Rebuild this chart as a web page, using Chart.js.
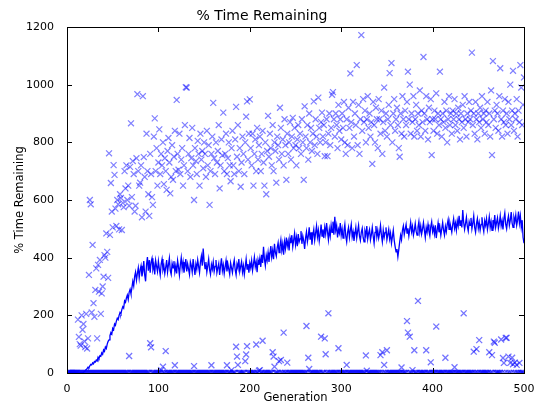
<!DOCTYPE html>
<html>
<head>
<meta charset="utf-8">
<script src="https://cdn.jsdelivr.net/npm/chart.js@4/dist/chart.umd.min.js"></script>
<style>
  html, body { margin: 0; padding: 0; background: #fff; }
  #wrap { width: 537px; height: 407px; }
</style>
</head>
<body>
<div id="wrap"><canvas id="myChart"></canvas></div>
<script>
// generations 1..500
var firstGen = 1;

// mean % time remaining per generation
var meanRemaining = [
    0,0,0,0,0,0,0,0,0,0,
    0,0,0,0,0,0,0,2,5,8,
    12,15,20,18,25,30,28,35,32,40,
    38,45,42,55,50,60,58,70,65,80,
    75,90,85,100,110,115,130,140,135,155,
    150,170,165,180,190,185,200,210,205,220,
    230,225,250,245,260,270,255,280,290,275,
    295,318,302,335,350,322,345,365,330,358,
    372,335,352,388,340,318,375,402,355,392,
    348,385,398,360,375,342,390,370,352,388,
    362,340,378,395,358,372,345,366,392,350,
    375,398,355,342,380,365,388,350,372,345,
    390,368,340,375,400,362,385,348,370,395,
    352,378,360,342,385,372,350,395,365,340,
    378,360,392,370,348,385,405,372,432,388,
    362,385,350,372,395,358,342,376,360,385,
    352,370,392,348,365,380,340,372,398,355,
    375,345,368,390,352,378,360,342,382,365,
    348,375,392,358,340,378,365,395,352,370,
    386,350,372,342,368,395,360,378,348,382,
    365,390,355,378,402,368,385,350,392,375,
    398,368,410,382,438,395,372,408,390,418,
    385,412,440,402,425,395,448,418,405,435,
    452,418,440,462,425,448,410,455,432,470,
    440,458,425,468,450,478,438,462,485,445,
    470,440,482,455,465,492,448,475,458,430,
    468,490,455,475,505,462,488,445,478,498,
    460,485,510,472,495,458,482,515,475,498,
    468,505,482,520,490,462,498,475,512,488,
    525,480,542,495,512,470,498,485,520,478,
    500,468,492,515,475,455,488,505,470,495,
    515,472,490,458,482,505,468,492,512,475,
    460,488,502,470,455,492,478,510,465,485,
    498,462,480,505,475,450,488,510,472,495,
    468,485,512,478,455,495,470,488,505,462,
    480,498,465,485,450,472,495,460,438,420,
    430,403,428,455,478,462,495,510,480,498,
    515,485,502,475,498,522,490,508,478,495,
    518,492,478,505,525,488,510,482,500,522,
    495,470,505,488,515,492,476,508,525,490,
    505,482,512,468,495,520,488,505,478,500,
    522,495,478,508,490,515,532,498,520,505,
    488,515,535,502,520,495,528,510,545,512,
    530,505,565,522,498,518,540,508,492,525,
    512,538,500,520,545,505,488,518,535,502,
    522,495,515,540,508,490,528,512,535,498,
    518,542,505,525,495,530,512,548,505,522,
    538,502,520,545,510,528,498,535,555,515,
    500,528,545,512,530,558,520,505,540,525,
    548,512,530,560,520,545,505,530,470,450
];

// best (max) % time remaining per generation
var maxRemaining = [
    0,0,0,0,0,0,0,0,0,0,
    0,185,125,100,95,200,150,170,110,90,
    205,85,120,340,600,585,210,444,242,195,
    288,363,120,375,282,392,205,276,300,334,
    409,400,484,420,330,762,479,659,560,505,
    721,687,570,510,600,585,498,620,607,496,
    590,575,700,640,720,600,650,580,715,866,
    610,735,690,560,580,745,967,700,650,660,
    720,540,960,749,680,560,830,700,620,545,
    760,690,610,583,820,883,700,780,650,730,
    845,690,760,720,800,655,745,700,635,770,
    815,730,623,680,790,670,750,840,700,947,
    760,705,830,690,740,780,650,720,860,991,
    990,700,760,815,680,745,850,720,600,780,
    735,690,805,760,650,830,740,770,710,800,
    760,680,840,720,790,583,700,760,820,937,
    745,690,800,730,770,860,640,720,810,755,
    903,700,760,830,690,745,800,720,665,780,
    840,720,690,810,923,750,860,700,780,646,
    730,820,760,690,800,889,942,740,830,949,
    780,720,830,650,760,810,700,850,740,790,
    820,700,760,840,730,650,800,620,770,892,
    750,830,780,720,860,700,800,770,660,820,
    790,740,920,850,760,810,720,880,790,670,
    830,760,800,870,740,820,885,780,850,790,
    720,810,860,780,830,760,880,800,670,925,
    820,780,860,740,900,800,850,770,830,942,
    790,880,820,760,955,850,800,870,903,820,
    860,752,800,880,752,830,900,790,850,965,
    974,880,820,900,860,780,930,840,880,810,
    900,850,940,800,760,880,790,920,850,1039,
    870,780,940,820,900,860,1068,790,930,760,
    880,1172,840,950,870,910,800,880,960,850,
    900,820,870,725,940,860,800,920,880,780,
    950,880,830,910,760,870,990,840,900,820,
    880,930,1040,860,1075,800,900,950,840,880,
    920,860,780,750,900,830,960,880,820,910,
    860,940,1045,880,1000,830,900,870,960,820,
    880,930,840,900,860,980,820,910,870,1096,
    900,840,960,880,810,920,870,950,756,880,
    840,910,880,970,830,900,860,1045,880,820,
    900,870,940,850,910,800,880,960,860,900,
    830,910,880,950,860,900,840,920,880,810,
    900,870,930,850,960,880,820,900,870,940,
    880,910,1111,860,900,830,940,880,810,900,
    870,920,850,960,880,900,830,910,870,940,
    860,900,820,980,756,1082,880,910,850,930,
    900,840,960,1057,880,820,910,870,950,860,
    900,830,940,880,1000,860,910,1048,840,900,
    880,950,820,910,870,1068,990,860,930,1025
];

// worst (min) % time remaining: zero except these generations
var minGens = [68,91,92,103,105,108,118,139,158,175,180,185,186,187,195,196,197,207,210,211,
    214,225,226,227,232,234,237,241,262,264,265,278,282,283,286,297,306,327,328,343,
    345,347,350,366,372,373,375,378,380,384,393,398,404,414,424,434,445,448,451,462,
    465,467,468,475,477,478,480,481,483,485,487,488,490,492,495];
var minVals = [59,103,89,10,22,76,27,24,27,27,10,91,57,28,41,64,93,99,8,10,
    112,72,57,22,41,45,140,36,163,53,14,126,120,65,207,86,28,61,8,62,
    72,28,79,19,180,140,126,10,79,250,79,37,161,53,20,207,74,83,114,72,
    62,109,105,116,52,35,122,122,57,35,53,30,36,28,35];

var xTicks = [0, 100, 200, 300, 400, 500];
var yTicks = [0, 200, 400, 600, 800, 1000, 1200];

var meanPts = meanRemaining.map(function (v, i) { return { x: firstGen + i, y: v }; });
var maxPts = maxRemaining.map(function (v, i) { return { x: firstGen + i, y: v }; });
var minPts = maxRemaining.map(function (v, i) {
    var g = firstGen + i;
    var k = minGens.indexOf(g);
    return { x: g, y: k >= 0 ? minVals[k] : 0 };
});

// box around the axes with inward ticks like matplotlib
var frame = {
    id: 'frame',
    afterDraw: function (chart) {
        var c = chart.ctx, a = chart.chartArea;
        var xs = chart.scales.x, ys = chart.scales.y;
        c.save();
        c.strokeStyle = '#000';
        c.lineWidth = 1;
        c.strokeRect(Math.round(a.left) + 0.5, Math.round(a.top) + 0.5,
            Math.round(a.right - a.left), Math.round(a.bottom - a.top));
        c.beginPath();
        xTicks.forEach(function (t) {
            var p = Math.round(xs.getPixelForValue(t)) + 0.5;
            c.moveTo(p, a.bottom); c.lineTo(p, a.bottom - 5);
            c.moveTo(p, a.top); c.lineTo(p, a.top + 5);
        });
        yTicks.forEach(function (t) {
            var p = Math.round(ys.getPixelForValue(t)) + 0.5;
            c.moveTo(a.left, p); c.lineTo(a.left + 5, p);
            c.moveTo(a.right, p); c.lineTo(a.right - 5, p);
        });
        c.stroke();
        c.restore();
    }
};

var ctx = document.getElementById('myChart').getContext('2d');
var myChart = new Chart(ctx, {
    type: 'scatter',
    data: {
        datasets: [{
            label: 'mean',
            data: meanPts,
            showLine: true,
            borderColor: 'rgb(0, 0, 255)',
            borderWidth: 1.3,
            pointRadius: 0,
            tension: 0,
            clip: 0
        }, {
            label: 'max',
            data: maxPts,
            pointStyle: 'crossRot',
            pointRadius: 4.2,
            borderColor: 'rgba(0, 0, 255, 0.5)',
            borderWidth: 1.2,
            clip: 0
        }, {
            label: 'min',
            data: minPts,
            pointStyle: 'crossRot',
            pointRadius: 4.2,
            borderColor: 'rgba(0, 0, 255, 0.55)',
            borderWidth: 1.3,
            clip: 0
        }]
    },
    options: {
        responsive: true,
        maintainAspectRatio: false,
        animation: false,
        layout: { padding: { left: 0, right: 13, top: 0, bottom: 0 } },
        plugins: {
            legend: { display: false },
            tooltip: { enabled: false },
            title: {
                display: true,
                text: '% Time Remaining',
                color: '#000',
                font: { family: 'DejaVu Sans', size: 14, weight: 'normal' },
                padding: { top: 8, bottom: 2.2 }
            }
        },
        scales: {
            x: {
                type: 'linear',
                min: 0,
                max: 500,
                afterFit: function (s) { s.height = 34; },
                afterBuildTicks: function (s) { s.ticks = xTicks.map(function (v) { return { value: v }; }); },
                grid: { display: false },
                border: { display: false },
                ticks: {
                    color: '#000', padding: 2, maxRotation: 0,
                    font: { family: 'DejaVu Sans', size: 11 },
                    callback: function (v) { return String(v); }
                },
                title: {
                    display: true,
                    text: 'Generation',
                    color: '#000',
                    font: { family: 'DejaVu Sans', size: 11.5 },
                    padding: { top: 0, bottom: 2 }
                }
            },
            y: {
                type: 'linear',
                min: 0,
                max: 1200,
                afterFit: function (s) { s.width = 67; },
                afterBuildTicks: function (s) { s.ticks = yTicks.map(function (v) { return { value: v }; }); },
                grid: { display: false },
                border: { display: false },
                ticks: {
                    color: '#000', padding: 5,
                    font: { family: 'DejaVu Sans', size: 11 },
                    callback: function (v) { return String(v); }
                },
                title: {
                    display: true,
                    text: '% Time Remaining',
                    color: '#000',
                    font: { family: 'DejaVu Sans', size: 11.5 },
                    padding: { top: 13 }
                }
            }
        }
    },
    plugins: [frame]
});
</script>
</body>
</html>
